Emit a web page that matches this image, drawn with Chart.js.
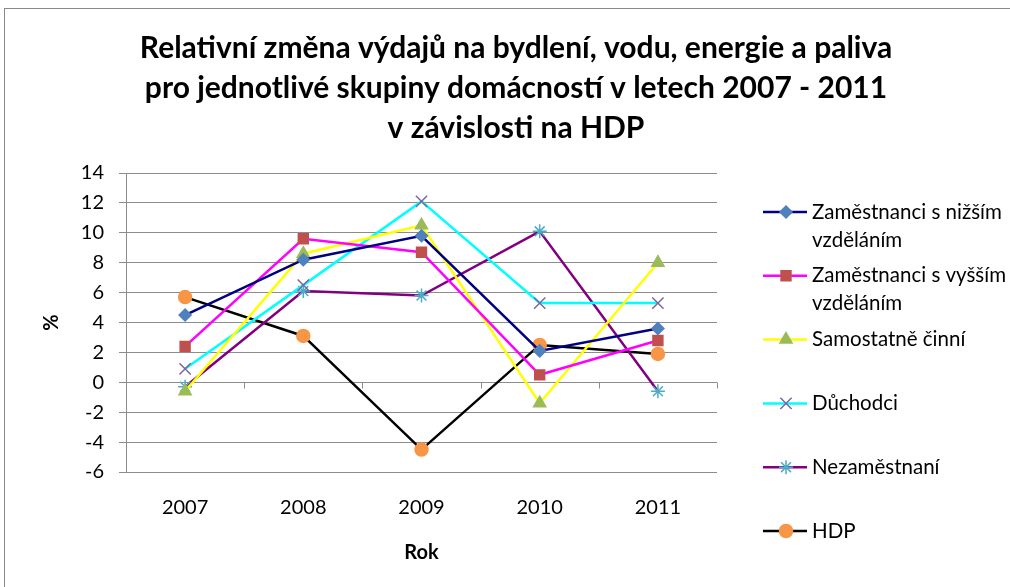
<!DOCTYPE html>
<html>
<head>
<meta charset="utf-8">
<script src="https://cdn.jsdelivr.net/npm/chart.js@4/dist/chart.umd.min.js"></script>
<style>
  body { margin: 0; background: #fff; }
  canvas { display: block; }
</style>
</head>
<body>
<canvas id="chart" width="1010" height="587"></canvas>
<script>
// Data
const years = ['2007', '2008', '2009', '2010', '2011'];
const seriesNames = [
    ['Zaměstnanci s nižším', 'vzděláním'],
    ['Zaměstnanci s vyšším', 'vzděláním'],
    ['Samostatně činní'],
    ['Důchodci'],
    ['Nezaměstnaní'],
    ['HDP']
];
const nizsiVzdelani = [4.5, 8.2, 9.8, 2.1, 3.6];
const vyssiVzdelani = [2.4, 9.6, 8.7, 0.5, 2.8];
const samostatne = [-0.6, 8.6, 10.5, -1.4, 8.0];
const duchodci = [0.9, 6.5, 12.1, 5.3, 5.3];
const nezamestnani = [-0.3, 6.1, 5.8, 10.1, -0.6];
const hdp = [5.7, 3.1, -4.5, 2.5, 1.9];
const yTicks = [-6, -4, -2, 0, 2, 4, 6, 8, 10, 12, 14];

const FONT = 'Lato, "Liberation Sans", sans-serif';
const GRID = '#8c8c8c';

function makeSet(i, values, line, style, fill, stroke, radius) {
    return {
        label: seriesNames[i].join(' '),
        data: values,
        borderColor: line,
        borderWidth: 2.5,
        pointStyle: style,
        pointRadius: radius,
        pointBackgroundColor: fill,
        pointBorderColor: stroke,
        pointBorderWidth: 1.5,
        tension: 0
    };
}

const datasets = [
    makeSet(0, nizsiVzdelani, '#000080', 'rectRot', '#4f81bd', '#4f81bd', 6),
    makeSet(1, vyssiVzdelani, '#ff00ff', 'rect', '#c0504d', '#c0504d', 7),
    makeSet(2, samostatne, '#ffff00', 'triangle', '#9bbb59', '#9bbb59', 7),
    makeSet(3, duchodci, '#00ffff', 'crossRot', '#8064a2', '#8064a2', 8),
    makeSet(4, nezamestnani, '#800080', 'star', '#4bacc6', '#4bacc6', 7),
    makeSet(5, hdp, '#000000', 'circle', '#f79646', '#f79646', 6.5)
];

// outer grey frame of the chart area
const framePlugin = {
    id: 'frame',
    beforeDraw(chart) {
        const ctx = chart.ctx;
        ctx.save();
        ctx.strokeStyle = '#888888';
        ctx.lineWidth = 1;
        ctx.strokeRect(4.5, 8.5, 1200, 800);
        ctx.restore();
    }
};

// small category tick marks on the zero line
const zeroTicks = {
    id: 'zeroTicks',
    beforeDatasetsDraw(chart) {
        const x = chart.scales.x, y = chart.scales.y;
        const ctx = chart.ctx;
        const half = (x.getPixelForValue(1) - x.getPixelForValue(0)) / 2;
        const y0 = Math.round(y.getPixelForValue(0)) + 0.5;
        ctx.save();
        ctx.strokeStyle = GRID;
        ctx.lineWidth = 1;
        ctx.beginPath();
        for (let i = 0; i < years.length; i++) {
            const px = Math.round(x.getPixelForValue(i) + half) + 0.5;
            ctx.moveTo(px, y0);
            ctx.lineTo(px, y0 + 6);
        }
        ctx.stroke();
        ctx.restore();
    }
};

// legend on the right, drawn like the Excel one
const sideLegend = {
    id: 'sideLegend',
    afterDraw(chart) {
        const ctx = chart.ctx;
        ctx.save();
        ctx.font = '20.5px ' + FONT;
        ctx.textBaseline = 'middle';
        ctx.textAlign = 'left';
        chart.data.datasets.forEach((ds, i) => {
            const cy = 212 + i * 63.8;
            ctx.strokeStyle = ds.borderColor;
            ctx.lineWidth = 2.5;
            ctx.beginPath();
            ctx.moveTo(763, cy);
            ctx.lineTo(807, cy);
            ctx.stroke();
            ctx.fillStyle = ds.pointBackgroundColor;
            ctx.strokeStyle = ds.pointBorderColor;
            ctx.lineWidth = ds.pointBorderWidth;
            Chart.helpers.drawPoint(ctx, {
                pointStyle: ds.pointStyle,
                radius: ds.pointRadius,
                rotation: 0,
                borderWidth: ds.pointBorderWidth
            }, 786, cy);
            ctx.fillStyle = '#000';
            seriesNames[i].forEach((t, j) => {
                ctx.fillText(t, 812, cy + j * 28);
            });
        });
        ctx.restore();
    }
};

new Chart(document.getElementById('chart'), {
    type: 'line',
    data: {
        labels: years,
        datasets: datasets
    },
    plugins: [framePlugin, zeroTicks, sideLegend],
    options: {
        responsive: false,
        animation: false,
        layout: { padding: { top: 8, left: 22, right: 0, bottom: 0 } },
        plugins: {
            legend: { display: false },
            tooltip: { enabled: false },
            title: {
                display: true,
                text: [
                    'Relativní změna výdajů na bydlení, vodu, energie a paliva',
                    'pro jednotlivé skupiny domácností v letech 2007 - 2011',
                    'v závislosti na HDP'
                ],
                color: '#000',
                font: { family: FONT, size: 30, weight: 'bold', lineHeight: '40px' },
                padding: { top: 20, bottom: 25 }
            }
        },
        scales: {
            x: {
                offset: true,
                grid: { display: false, offset: true },
                border: { display: false },
                ticks: { color: '#000', font: { family: FONT, size: 20 }, padding: 16 },
                title: {
                    display: true,
                    text: 'Rok',
                    color: '#000',
                    font: { family: FONT, size: 20, weight: 'bold' },
                    padding: { top: 0, bottom: 22 }
                },
                afterFit(s) { s.height = 115; }
            },
            y: {
                min: -6,
                max: 14,
                afterBuildTicks(s) { s.ticks = yTicks.map(v => ({ value: v })); },
                grid: { color: GRID, lineWidth: 1, tickLength: 7 },
                border: { color: GRID, width: 1 },
                ticks: { color: '#000', font: { family: FONT, size: 20 }, padding: 15 },
                title: {
                    display: true,
                    text: '%',
                    color: '#000',
                    font: { family: FONT, size: 20, weight: 'bold' },
                    padding: { top: 18, bottom: 0 }
                },
                afterFit(s) { s.width = 104; }
            },
            // empty axis that only reserves room for the legend
            side: {
                position: 'right',
                display: true,
                grid: { display: false },
                border: { display: false },
                ticks: { display: false },
                afterFit(s) { s.width = 293; }
            }
        }
    }
});
</script>
</body>
</html>
